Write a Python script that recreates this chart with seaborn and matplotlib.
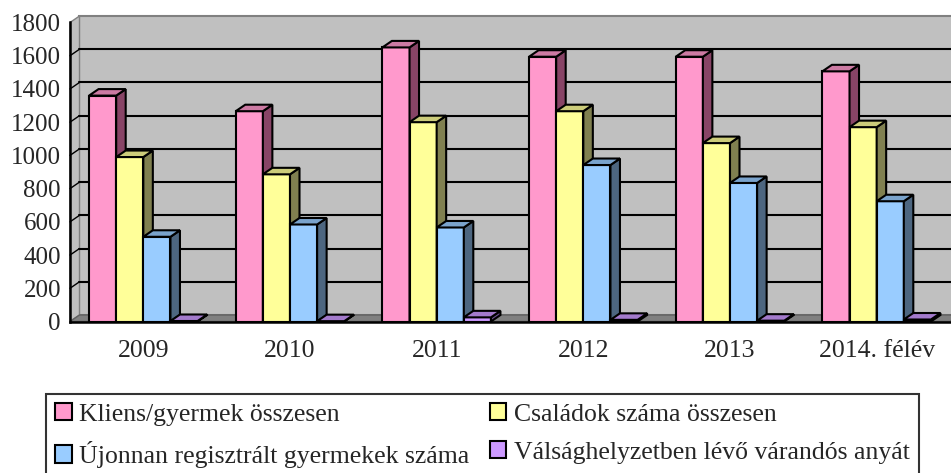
import matplotlib
matplotlib.use("Agg")
import matplotlib.pyplot as plt
import seaborn as sns
import pandas as pd
from matplotlib.patches import Polygon, Rectangle, Patch

years = ['2009', '2010', '2011', '2012', '2013', '2014. félév']
series = ['Kliens/gyermek összesen', 'Családok száma összesen',
          'Újonnan regisztrált gyermekek száma', 'Válsághelyzetben lévő várandós anyát']
kliens = [1360, 1266, 1650, 1594, 1594, 1506]
csaladok = [990, 886, 1200, 1266, 1074, 1170]
ujonnan = [510, 584, 566, 942, 834, 724]
valsag = [3, 2, 25, 10, 5, 12]
yticks = [0, 200, 400, 600, 800, 1000, 1200, 1400, 1600, 1800]

front = ['#FF99CC', '#FFFF99', '#99CCFF', '#CC99FF']
side = ['#884466', '#808050', '#4D6680', '#664D88']
top = ['#CC7AA3', '#CCCC7A', '#7AA3CC', '#A37ACC']

rows = []
for s, vals in zip(series, [kliens, csaladok, ujonnan, valsag]):
    for y, v in zip(years, vals):
        rows.append({'year': y, 'value': v, 'series': s})
df = pd.DataFrame(rows)

sns.set_style('white')
plt.rcParams['font.family'] = ['Liberation Serif', 'DejaVu Serif']

fig = plt.figure(figsize=(9.51, 4.73), dpi=100)
ax = fig.add_axes([70 / 951, 1 - 321.5 / 473, 880 / 951, (321.5 - 22.5) / 473])

sns.barplot(data=df, x='year', y='value', hue='series', hue_order=series,
            palette=front, edgecolor='black', linewidth=1.5, width=0.74,
            saturation=1, legend=False, ax=ax, errorbar=None)

ax.set_xlim(-0.5, 5.5)
ax.set_ylim(0, 1800)
ax.set_facecolor('none')

# 3D depth offsets in data units
dxp, dyp = 9.5, 6.5
dxd = dxp * 6.0 / ax.bbox.width
dyd = dyp * 1800.0 / ax.bbox.height

# back wall, side wall, floor
ax.add_patch(Rectangle((-0.5 + dxd, dyd), 6.0, 1800, facecolor='#C0C0C0',
                       edgecolor='#808080', lw=1.5, zorder=0.5, clip_on=False))
ax.add_patch(Polygon([(-0.5, 0), (-0.5, 1800), (-0.5 + dxd, 1800 + dyd), (-0.5 + dxd, dyd)],
                     closed=True, facecolor='#C0C0C0', edgecolor='#808080', lw=1,
                     zorder=0.6, clip_on=False))
ax.add_patch(Polygon([(-0.5, 0), (5.5, 0), (5.5 + dxd, dyd), (-0.5 + dxd, dyd)],
                     closed=True, facecolor='#808080', edgecolor='#606060', lw=1,
                     zorder=0.7, clip_on=False))
for t in yticks[1:-1]:
    ax.plot([-0.5 + dxd, 5.5 + dxd], [t + dyd, t + dyd], color='black', lw=1.5,
            zorder=0.8, clip_on=False)
    ax.plot([-0.5, -0.5 + dxd], [t, t + dyd], color='black', lw=1.0,
            zorder=0.8, clip_on=False)

for i, cont in enumerate(ax.containers):
    for p in cont.patches:
        x, w, h = p.get_x(), p.get_width(), p.get_height()
        p.set_zorder(3 + i)
        ax.add_patch(Polygon([(x + w, 0), (x + w, h), (x + w + dxd, h + dyd), (x + w + dxd, dyd)],
                             closed=True, facecolor=side[i], edgecolor='black', lw=1.5,
                             zorder=3 + i + 0.01, clip_on=False))
        ax.add_patch(Polygon([(x, h), (x + w, h), (x + w + dxd, h + dyd), (x + dxd, h + dyd)],
                             closed=True, facecolor=top[i], edgecolor='black', lw=1.5,
                             zorder=3 + i + 0.02, clip_on=False))

for s in ['top', 'right']:
    ax.spines[s].set_visible(False)
for s in ['left', 'bottom']:
    ax.spines[s].set_color('black')
    ax.spines[s].set_linewidth(1.8)
    ax.spines[s].set_zorder(10)

ax.set_yticks(yticks)
ax.set_yticklabels([str(t) for t in yticks], fontsize=18)
ax.set_xticks(range(len(years)))
ax.set_xticklabels(years, fontsize=18.5)
ax.set_xticks([k - 0.5 for k in range(len(years) + 1)], minor=True)
ax.tick_params(axis='x', which='major', length=0, pad=13)
ax.tick_params(axis='x', which='minor', length=6, width=1.5, direction='out', color='black')
ax.tick_params(axis='y', length=5.5, width=1.5, direction='out', color='black', pad=1)
ax.set_xlabel('')
ax.set_ylabel('')

order = [0, 2, 1, 3]
handles = [Patch(facecolor=front[k], edgecolor='black', lw=1.5) for k in order]
labels = [series[k] for k in order]
leg = fig.legend(handles, labels, ncol=2, loc='upper left', mode='expand',
                 bbox_to_anchor=(46 / 951, 0, (919 - 46) / 951, 1 - 394 / 473),
                 fontsize=18.5, frameon=True, fancybox=False,
                 edgecolor='black', handlelength=0.65, handleheight=0.65,
                 handletextpad=0.3, borderpad=0.35, labelspacing=0.6,
                 columnspacing=0.5, borderaxespad=0)
leg.get_frame().set_linewidth(1.5)

fig.savefig('out.png', dpi=100)
